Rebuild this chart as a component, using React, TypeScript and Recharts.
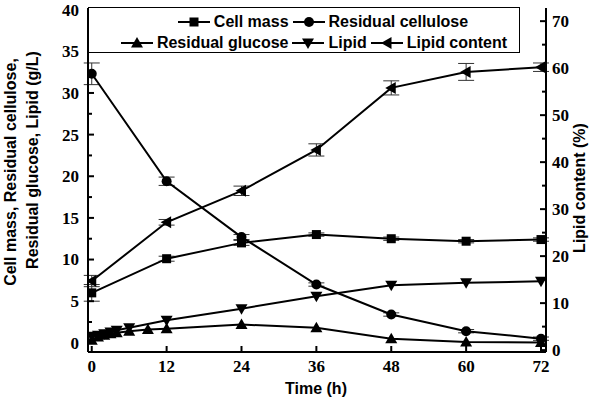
import React from 'react';
import { LineChart, Line, XAxis, YAxis, ErrorBar, Legend } from 'recharts';

// ---- data ----
const hours = [0, 12, 24, 36, 48, 60, 72];
const cellMass = [6.0, 10.1, 12.0, 13.0, 12.5, 12.2, 12.4];
const cellMassErr = [1.0, 0.3, 0.3, 0.2, 0.2, 0.2, 0.2];
const cellulose = [32.3, 19.4, 12.7, 7.0, 3.4, 1.4, 0.5];
const celluloseErr = [1.3, 0.5, 0.3, 0.2, 0.2, 0.2, 0.2];
const lipidContent = [14.7, 27.2, 33.9, 42.6, 55.8, 59.2, 60.2];
const lipidContentErr = [1.2, 0.6, 1.0, 1.3, 1.5, 1.8, 0.9];

const glucoseHours = [0, 1, 2, 3, 4, 6, 9, 12, 24, 36, 48, 60, 72];
const glucose = [0.3, 0.7, 0.9, 1.1, 1.2, 1.4, 1.6, 1.7, 2.2, 1.8, 0.5, 0.1, 0.05];

const lipidHours = [0, 1, 2, 3, 4, 6, 12, 24, 36, 48, 60, 72];
const lipid = [0.8, 0.9, 1.1, 1.3, 1.5, 1.8, 2.7, 4.1, 5.6, 6.9, 7.2, 7.4];

const xTicks = [0, 12, 24, 36, 48, 60, 72];
const leftTicks = [0, 2.5, 5, 7.5, 10, 12.5, 15, 17.5, 20, 22.5, 25, 27.5, 30, 32.5, 35, 37.5, 40];
const rightTicks = [0, 5, 10, 15, 20, 25, 30, 35, 40, 45, 50, 55, 60, 65, 70];

const seriesNames = ['Cell mass', 'Residual cellulose', 'Residual glucose', 'Lipid', 'Lipid content'];
const xTitle = 'Time (h)';
const leftTitle = ['Cell mass,  Residual cellulose,', 'Residual glucose, Lipid (g/L)'];
const rightTitle = 'Lipid content (%)';

const mainData = hours.map((t, i) => ({
  t,
  cellMass: cellMass[i],
  cellMassErr: cellMassErr[i],
  cellulose: cellulose[i],
  celluloseErr: celluloseErr[i],
  lipidContent: lipidContent[i],
  lipidContentErr: lipidContentErr[i],
}));
const glucoseData = glucoseHours.map((t, i) => ({ t, glucose: glucose[i] }));
const lipidData = lipidHours.map((t, i) => ({ t, lipid: lipid[i] }));

type Shape = 'square' | 'circle' | 'up' | 'down' | 'left';

function markerEl(cx: number, cy: number, shape: Shape, key?: any) {
  const f = '#000';
  switch (shape) {
    case 'square':
      return <rect key={key} x={cx - 4.5} y={cy - 4.5} width={9} height={9} fill={f} />;
    case 'circle':
      return <circle key={key} cx={cx} cy={cy} r={5} fill={f} />;
    case 'up':
      return <polygon key={key} points={`${cx},${cy - 6} ${cx + 6},${cy + 4.5} ${cx - 6},${cy + 4.5}`} fill={f} />;
    case 'down':
      return <polygon key={key} points={`${cx - 6},${cy - 4.5} ${cx + 6},${cy - 4.5} ${cx},${cy + 6}`} fill={f} />;
    case 'left':
      return <polygon key={key} points={`${cx - 6},${cy} ${cx + 4.5},${cy - 6} ${cx + 4.5},${cy + 6}`} fill={f} />;
  }
}

const dotFor = (shape: Shape) => (p: any) => markerEl(p.cx, p.cy, shape, `${shape}-${p.index}`);

const tickFont = { fontFamily: '"Liberation Serif", "Times New Roman", serif', fontWeight: 700, fontSize: 17 };
const titleFont = { fontFamily: '"Liberation Sans", Arial, sans-serif', fontWeight: 700, fontSize: 16 };

const LeftTick = (props: any) => {
  const { x, y, payload } = props;
  const v = payload.value;
  const major = v % 5 === 0;
  return (
    <g>
      <line x1={x} x2={x + (major ? 6 : 4)} y1={y} y2={y} stroke="#000" strokeWidth={2} />
      {major && (
        <text x={x - 9} y={y} dy="0.35em" textAnchor="end" fill="#000" {...tickFont}>
          {v}
        </text>
      )}
    </g>
  );
};

const RightTick = (props: any) => {
  const { x, y, payload } = props;
  const v = payload.value;
  const major = v % 10 === 0;
  return (
    <g>
      <line x1={x} x2={x - (major ? 6 : 4)} y1={y} y2={y} stroke="#000" strokeWidth={2} />
      {major && (
        <text x={x + 6} y={y} dy="0.35em" textAnchor="start" fill="#000" {...tickFont}>
          {v}
        </text>
      )}
    </g>
  );
};

const BottomTick = (props: any) => {
  const { x, y, payload } = props;
  return (
    <g>
      <line x1={x} x2={x} y1={y} y2={y - 6} stroke="#000" strokeWidth={2} />
      <text x={x} y={y + 20} textAnchor="middle" fill="#000" {...tickFont}>
        {payload.value}
      </text>
    </g>
  );
};

const legendShapes: Shape[] = ['square', 'circle', 'up', 'down', 'left'];

const LegendItem = ({ name, shape }: { name: string; shape: Shape }) => (
  <span style={{ display: 'inline-flex', alignItems: 'center', marginRight: 4, whiteSpace: 'nowrap' }}>
    <svg width={32} height={14} style={{ marginRight: 4 }}>
      <line x1={0} x2={32} y1={7} y2={7} stroke="#000" strokeWidth={2} />
      {markerEl(16, 7, shape)}
    </svg>
    <span>{name}</span>
  </span>
);

const LegendBox = () => (
  <div
    style={{
      boxSizing: 'border-box',
      width: 432,
      height: 46,
      border: '1px solid #000',
      background: '#fff',
      ...titleFont,
      color: '#000',
      lineHeight: '21px',
      paddingTop: 3,
    }}
  >
    <div style={{ display: 'flex', justifyContent: 'center', paddingLeft: 42 }}>
      <LegendItem name={seriesNames[0]} shape={legendShapes[0]} />
      <LegendItem name={seriesNames[1]} shape={legendShapes[1]} />
    </div>
    <div style={{ display: 'flex', justifyContent: 'center', paddingLeft: 24 }}>
      <LegendItem name={seriesNames[2]} shape={legendShapes[2]} />
      <LegendItem name={seriesNames[3]} shape={legendShapes[3]} />
      <LegendItem name={seriesNames[4]} shape={legendShapes[4]} />
    </div>
  </div>
);

const LeftTitle = () => (
  <g>
    <text transform={`translate(16, 172) rotate(-90)`} textAnchor="middle" fill="#000" {...titleFont}>
      {leftTitle[0]}
    </text>
    <text transform={`translate(38, 160) rotate(-90)`} textAnchor="middle" fill="#000" {...titleFont}>
      {leftTitle[1]}
    </text>
  </g>
);

const RightTitle = () => (
  <text transform={`translate(585, 188) rotate(-90)`} textAnchor="middle" fill="#000" {...titleFont}>
    {rightTitle}
  </text>
);

const XTitle = () => (
  <text x={316} y={394} textAnchor="middle" fill="#000" {...titleFont}>
    {xTitle}
  </text>
);

export default function App() {
  return (
    <div style={{ position: 'absolute', left: 0, top: 0, width: 600, height: 403, background: '#fff' }}>
      <LineChart width={600} height={403} margin={{ top: 8, right: 0, bottom: 0, left: 0 }}>
        <XAxis
          dataKey="t"
          type="number"
          domain={[-0.6, 72.8]}
          allowDataOverflow
          ticks={xTicks}
          interval={0}
          height={51}
          tickSize={0}
          tickMargin={0}
          tickLine={false}
          tick={<BottomTick />}
          axisLine={{ stroke: '#000', strokeWidth: 2 }}
          label={{ content: <XTitle /> } as any}
        />
        <YAxis
          yAxisId="left"
          type="number"
          domain={[-1.1, 40.2]}
          allowDataOverflow
          ticks={leftTicks}
          interval={0}
          width={88}
          tickSize={0}
          tickMargin={0}
          tickLine={false}
          tick={<LeftTick />}
          axisLine={{ stroke: '#000', strokeWidth: 2 }}
          label={{ content: <LeftTitle /> } as any}
        />
        <YAxis
          yAxisId="right"
          orientation="right"
          type="number"
          domain={[-0.4, 72.8]}
          allowDataOverflow
          ticks={rightTicks}
          interval={0}
          width={54}
          tickSize={0}
          tickMargin={0}
          tickLine={false}
          tick={<RightTick />}
          axisLine={{ stroke: '#000', strokeWidth: 2 }}
          label={{ content: <RightTitle /> } as any}
        />
        <Legend
          layout="horizontal"
          verticalAlign="middle"
          align="center"
          content={<LegendBox />}
          wrapperStyle={{ position: 'absolute', left: 88, top: 7, width: 432, height: 46 }}
        />
        <Line
          yAxisId="left"
          data={mainData}
          dataKey="cellMass"
          name={seriesNames[0]}
          stroke="#000"
          strokeWidth={2}
          dot={dotFor('square')}
          isAnimationActive={false}
        >
          <ErrorBar dataKey="cellMassErr" width={8} stroke="#333" strokeWidth={1} direction="y" />
        </Line>
        <Line
          yAxisId="left"
          data={mainData}
          dataKey="cellulose"
          name={seriesNames[1]}
          stroke="#000"
          strokeWidth={2}
          dot={dotFor('circle')}
          isAnimationActive={false}
        >
          <ErrorBar dataKey="celluloseErr" width={8} stroke="#333" strokeWidth={1} direction="y" />
        </Line>
        <Line
          yAxisId="left"
          data={glucoseData}
          dataKey="glucose"
          name={seriesNames[2]}
          stroke="#000"
          strokeWidth={2}
          dot={dotFor('up')}
          isAnimationActive={false}
        />
        <Line
          yAxisId="left"
          data={lipidData}
          dataKey="lipid"
          name={seriesNames[3]}
          stroke="#000"
          strokeWidth={2}
          dot={dotFor('down')}
          isAnimationActive={false}
        />
        <Line
          yAxisId="right"
          data={mainData}
          dataKey="lipidContent"
          name={seriesNames[4]}
          stroke="#000"
          strokeWidth={2}
          dot={dotFor('left')}
          isAnimationActive={false}
        >
          <ErrorBar dataKey="lipidContentErr" width={8} stroke="#333" strokeWidth={1} direction="y" />
        </Line>
      </LineChart>
    </div>
  );
}
